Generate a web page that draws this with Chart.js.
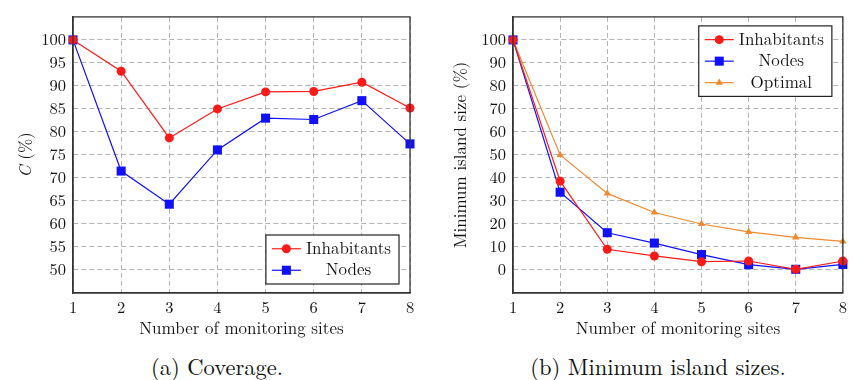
<!DOCTYPE html>
<html lang="en">
<head>
    <meta charset="UTF-8">
    <title>Coverage and minimum island sizes</title>
    <script src="https://cdn.jsdelivr.net/npm/chart.js"></script>
    <style>
        body { margin: 0; background: #fff; }
        #wrap { position: relative; width: 852px; height: 380px; overflow: hidden; background: #fff; }
        canvas { position: absolute; top: 0; }
        #chartA { left: 0; }
        #chartB { left: 426px; }
        .caption {
            position: absolute; top: 350px; width: 400px; text-align: center;
            font-family: 'Latin Modern Roman', 'Liberation Serif', serif; font-size: 22.5px; color: #111;
        }
    </style>
</head>
<body>
<div id="wrap">
    <canvas id="chartA" width="426" height="345"></canvas>
    <canvas id="chartB" width="426" height="345"></canvas>
    <div class="caption" style="left: 17px;">(a) Coverage.</div>
    <div class="caption" style="left: 458px;">(b) Minimum island sizes.</div>
</div>
<script>
// values
const sites = [1, 2, 3, 4, 5, 6, 7, 8];

const coverageInhabitants = [100, 93.2, 78.7, 85.0, 88.7, 88.8, 90.8, 85.2];
const coverageNodes = [100, 71.5, 64.3, 76.1, 83.0, 82.7, 86.8, 77.4];
const coverageTicks = [50, 55, 60, 65, 70, 75, 80, 85, 90, 95, 100];

const islandInhabitants = [100, 38.6, 9.0, 6.1, 3.6, 3.9, 0.3, 3.9];
const islandNodes = [100, 33.8, 16.2, 11.7, 6.7, 2.3, 0.3, 2.4];
const islandOptimal = [100, 50, 33.3, 25, 20, 16.6, 14.2, 12.4];
const islandTicks = [0, 10, 20, 30, 40, 50, 60, 70, 80, 90, 100];

const FONT = "'Latin Modern Roman', 'Liberation Serif', serif";
const INK = '#111';
const RED = '#ff1a1a', BLUE = '#1010ff', ORANGE = '#f08a30';

// full box round the plot area
const frame = {
    id: 'frame',
    afterDraw(chart) {
        const a = chart.chartArea, ctx = chart.ctx;
        ctx.save();
        ctx.strokeStyle = '#333';
        ctx.lineWidth = 1.3;
        ctx.strokeRect(a.left, a.top, a.right - a.left, a.bottom - a.top);
        ctx.restore();
    }
};

// rotated y title made of styled parts
const yTitle = {
    id: 'yTitle',
    afterDraw(chart, args, opts) {
        const a = chart.chartArea, ctx = chart.ctx;
        ctx.save();
        ctx.translate(a.left - opts.offset, (a.top + a.bottom) / 2);
        ctx.rotate(-Math.PI / 2);
        ctx.fillStyle = INK;
        ctx.textBaseline = 'middle';
        const fonts = opts.parts.map(p => (p.italic ? 'italic ' : '') + '17px ' + FONT);
        let total = 0;
        opts.parts.forEach((p, i) => { ctx.font = fonts[i]; total += ctx.measureText(p.text).width; });
        let x = -total / 2;
        opts.parts.forEach((p, i) => {
            ctx.font = fonts[i];
            ctx.fillText(p.text, x, 0);
            x += ctx.measureText(p.text).width;
        });
        ctx.restore();
    }
};

// boxed legend inside the plot
const boxLegend = {
    id: 'boxLegend',
    afterDraw(chart, args, opts) {
        const a = chart.chartArea, ctx = chart.ctx;
        const sets = chart.data.datasets;
        ctx.save();
        ctx.font = '17px ' + FONT;
        const textW = Math.max(...sets.map(d => ctx.measureText(d.label).width));
        const rowH = 21.5, sample = 29, pad = 6;
        const w = pad + sample + 5 + textW + 8;
        const h = sets.length * rowH + 6;
        const x = a.right - opts.marginX - w;
        const y = opts.corner === 'top' ? a.top + opts.marginY : a.bottom - opts.marginY - h;
        ctx.fillStyle = '#fff';
        ctx.fillRect(x, y, w, h);
        ctx.strokeStyle = '#222';
        ctx.lineWidth = 1.2;
        ctx.strokeRect(x, y, w, h);
        sets.forEach((d, i) => {
            const cy = y + 3 + rowH * (i + 0.5);
            ctx.strokeStyle = d.borderColor;
            ctx.lineWidth = d.borderWidth;
            ctx.beginPath();
            ctx.moveTo(x + pad, cy);
            ctx.lineTo(x + pad + sample, cy);
            ctx.stroke();
            ctx.fillStyle = d.pointBackgroundColor;
            Chart.helpers.drawPoint(ctx, { pointStyle: d.pointStyle, radius: d.pointRadius, borderWidth: 0, rotation: 0 }, x + pad + sample / 2, cy);
            ctx.fillStyle = INK;
            ctx.textAlign = 'center';
            ctx.textBaseline = 'middle';
            ctx.fillText(d.label, x + pad + sample + 5 + textW / 2, cy);
        });
        ctx.restore();
    }
};

function series(label, data, color, style, radius) {
    return {
        label: label,
        data: data,
        borderColor: color,
        backgroundColor: color,
        pointBackgroundColor: color,
        pointBorderWidth: 0,
        pointStyle: style,
        pointRadius: radius,
        borderWidth: 1.2,
        tension: 0,
        clip: false
    };
}

function makeChart(id, datasets, yMin, yMax, yTicks, yWidth, padRight, titleParts, titleOffset, legendOpts) {
    return new Chart(document.getElementById(id), {
        type: 'line',
        data: { labels: sites, datasets: datasets },
        plugins: [frame, yTitle, boxLegend],
        options: {
            responsive: false,
            animation: false,
            layout: { padding: { top: 14, right: padRight, left: 0, bottom: 0 } },
            plugins: {
                legend: { display: false },
                tooltip: { enabled: false },
                yTitle: { parts: titleParts, offset: titleOffset },
                boxLegend: legendOpts
            },
            scales: {
                x: {
                    offset: false,
                    grid: { color: '#b4b4b4', drawTicks: false },
                    border: { color: '#333', width: 1.3, dash: [5, 3] },
                    ticks: { color: INK, font: { family: FONT, size: 16.5 }, padding: 5, maxRotation: 0, autoSkip: false },
                    title: { display: true, text: 'Number of monitoring sites', color: INK, font: { family: FONT, size: 17 }, padding: { top: 0, bottom: 6 } },
                    afterFit(s) { s.height = 52; }
                },
                y: {
                    min: yMin,
                    max: yMax,
                    grid: { color: '#b4b4b4', drawTicks: false },
                    border: { color: '#333', width: 1.3, dash: [5, 3] },
                    ticks: { color: INK, font: { family: FONT, size: 16.5 }, padding: 7 },
                    afterBuildTicks(s) { s.ticks = yTicks.map(v => ({ value: v })); },
                    afterFit(s) { s.width = yWidth; }
                }
            }
        }
    });
}

function drawAll() {
    makeChart('chartA', [
        series('Inhabitants', coverageInhabitants, RED, 'circle', 4.5),
        series('Nodes', coverageNodes, BLUE, 'rect', 6.4)
    ], 45, 105, coverageTicks, 73, 16,
       [{ text: 'C', italic: true }, { text: ' (%)' }], 47,
       { corner: 'bottom', marginX: 11, marginY: 9 });

    makeChart('chartB', [
        series('Inhabitants', islandInhabitants, RED, 'circle', 4.5),
        series('Nodes', islandNodes, BLUE, 'rect', 6.4),
        series('Optimal', islandOptimal, ORANGE, 'triangle', 4.2)
    ], -10, 110, islandTicks, 87, 2,
       [{ text: 'Minimum island size (%)' }], 52,
       { corner: 'top', marginX: 11, marginY: 9 });
}

// make sure the serif face is ready before the canvases draw text
Promise.all([
    document.fonts.load("16px 'Latin Modern Roman'"),
    document.fonts.load("italic 17px 'Latin Modern Roman'")
]).then(drawAll, drawAll);
</script>
</body>
</html>
